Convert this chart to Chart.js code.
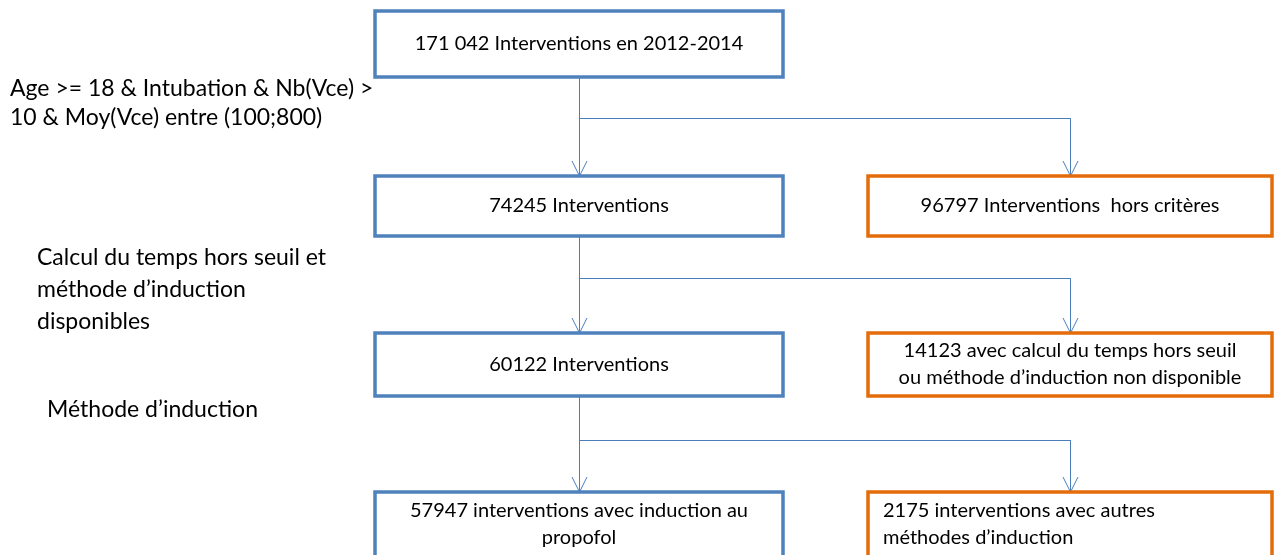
<!DOCTYPE html>
<html>
<head>
<meta charset="utf-8">
<script src="https://cdn.jsdelivr.net/npm/chart.js@4"></script>
<style>
html, body { margin: 0; padding: 0; background: #fff; }
#wrap { width: 1274px; height: 555px; }
</style>
</head>
<body>
<div id="wrap"><canvas id="flow"></canvas></div>
<script>
// selection steps (left hand notes)
var stepLabels = [
    ['Age >= 18 & Intubation & Nb(Vce) >', '10 & Moy(Vce) entre (100;800)'],
    ['Calcul du temps hors seuil et', 'm\u00e9thode d\u2019induction', 'disponibles'],
    ['M\u00e9thode d\u2019induction']
];
// kept interventions (left column)
var keptCounts = ['171 042', '74245', '60122', '57947'];
var keptLabels = [
    ['171 042 Interventions en 2012-2014'],
    ['74245 Interventions'],
    ['60122 Interventions'],
    ['57947 interventions avec induction au', 'propofol']
];
// excluded interventions (right column)
var droppedCounts = ['96797', '14123', '2175'];
var droppedLabels = [
    ['96797 Interventions  hors crit\u00e8res'],
    ['14123 avec calcul du temps hors seuil', 'ou m\u00e9thode d\u2019induction non disponible'],
    ['2175 interventions avec autres', 'm\u00e9thodes d\u2019induction']
];

// layout, in scale units (1 unit = 1px)
var colLeft = [375, 868];
var colWidth = [408, 404];
var rowTop = [11, 176, 333, 492];
var rowBottom = [77, 236, 396, 575];
var branchY = [118, 278, 440];
var stepPos = [[10, 89, 29], [37, 258, 32], [47, 410, 0]];

var BLUE = '#4F81BD', ORANGE = '#E46C0A', LINK = '#4A7EBB';
var boxFont = '20px Lato';
var noteFont = '23px Lato';

var midKept = colLeft[0] + colWidth[0] / 2 + 0.5;
var midDrop = colLeft[1] + colWidth[1] / 2 + 0.5;

// connector segments
var segments = [];
for (var i = 0; i < branchY.length; i++) {
    segments.push([{x: midKept, y: rowBottom[i]}, {x: midKept, y: rowTop[i + 1]}]);
    segments.push([{x: midKept, y: branchY[i] + 0.5}, {x: midDrop, y: branchY[i] + 0.5}, {x: midDrop, y: rowTop[i + 1]}]);
}
var datasets = segments.map(function(s){
    return {data: s, showLine: true, borderColor: LINK, borderWidth: 1, pointRadius: 0, fill: false, tension: 0};
});

var flowPlugin = {
    id: 'flow',
    beforeDatasetsDraw: function(chart){
        var ctx = chart.ctx, xs = chart.scales.x, ys = chart.scales.y;
        ctx.save();
        ctx.fillStyle = '#000';
        ctx.font = noteFont;
        ctx.textBaseline = 'middle';
        ctx.textAlign = 'left';
        stepLabels.forEach(function(lines, i){
            lines.forEach(function(t, j){
                ctx.fillText(t, xs.getPixelForValue(stepPos[i][0]), ys.getPixelForValue(stepPos[i][1] + j * stepPos[i][2]));
            });
        });
        ctx.restore();
    },
    afterDatasetsDraw: function(chart){
        var ctx = chart.ctx, xs = chart.scales.x, ys = chart.scales.y;
        ctx.save();
        // arrow heads
        ctx.strokeStyle = LINK;
        ctx.lineWidth = 1;
        for (var i = 0; i < branchY.length; i++) {
            [midKept, midDrop].forEach(function(mx){
                var px = xs.getPixelForValue(mx), py = ys.getPixelForValue(rowTop[i + 1]);
                ctx.beginPath();
                ctx.moveTo(px - 7.5, py - 15);
                ctx.lineTo(px, py);
                ctx.lineTo(px + 7.5, py - 15);
                ctx.stroke();
            });
        }
        function box(col, row, color, lines, align){
            var x1 = xs.getPixelForValue(colLeft[col]), x2 = xs.getPixelForValue(colLeft[col] + colWidth[col]);
            var y1 = ys.getPixelForValue(rowTop[row]), y2 = ys.getPixelForValue(rowBottom[row]);
            ctx.fillStyle = '#fff';
            ctx.fillRect(x1, y1, x2 - x1, y2 - y1);
            ctx.strokeStyle = color;
            ctx.lineWidth = 3.5;
            ctx.strokeRect(x1, y1, x2 - x1, y2 - y1);
            ctx.fillStyle = '#000';
            ctx.font = boxFont;
            ctx.textBaseline = 'middle';
            var lh = 27;
            var bottom = Math.min(y2, 555);
            var cy = (y1 + bottom) / 2 - (lines.length - 1) * lh / 2;
            if (row === 3) cy = y1 + 19;
            lines.forEach(function(t, j){
                if (align === 'left') {
                    ctx.textAlign = 'left';
                    ctx.fillText(t, x1 + 15, cy + j * lh);
                } else {
                    ctx.textAlign = 'center';
                    ctx.fillText(t, (x1 + x2) / 2, cy + j * lh);
                }
            });
        }
        keptLabels.forEach(function(l, i){ box(0, i, BLUE, l, 'center'); });
        droppedLabels.forEach(function(l, i){ box(1, i + 1, ORANGE, l, i === 2 ? 'left' : 'center'); });
        ctx.restore();
    }
};

window.onload = function(){
    var ctx = document.getElementById('flow').getContext('2d');
    window.flowChart = new Chart(ctx, {
        type: 'scatter',
        data: { datasets: datasets },
        options: {
            responsive: true,
            maintainAspectRatio: false,
            animation: false,
            layout: { padding: 0 },
            plugins: { legend: { display: false }, tooltip: { enabled: false } },
            scales: {
                x: { type: 'linear', min: 0, max: 1274, display: false },
                y: { type: 'linear', min: 0, max: 555, reverse: true, display: false }
            }
        },
        plugins: [flowPlugin]
    });
};
</script>
</body>
</html>
